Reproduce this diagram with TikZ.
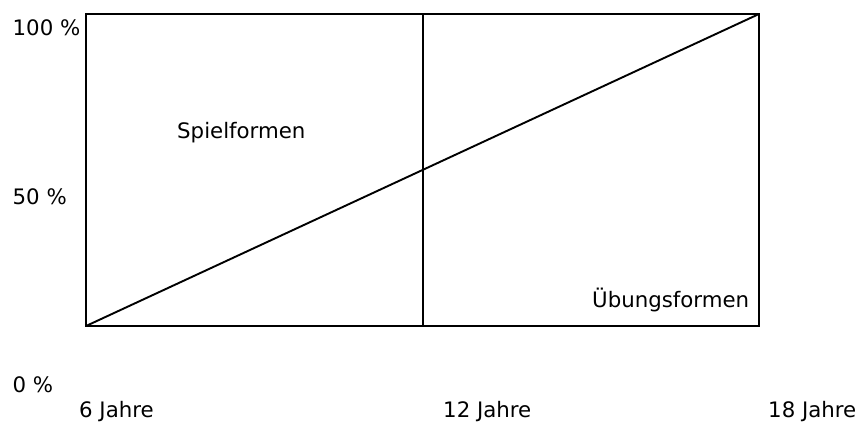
\documentclass[tikz,border=0pt]{standalone}
\usepackage{fontspec}
\setmainfont{DejaVu Sans}
\usetikzlibrary{positioning}

\begin{document}
\begin{tikzpicture}[x=1pt,y=-1pt,
  axislabel/.style={anchor=base west,inner sep=0pt,font=\fontsize{21.3}{25}\selectfont},
  arealabel/.style={anchor=base west,inner sep=0pt,font=\fontsize{21.3}{25}\selectfont},
  frameline/.style={line width=2.2pt},
  shareline/.style={line width=1.9pt}
]
\useasboundingbox (0,0) rectangle (860,421);
% frame of the chart
\coordinate (bl) at (86,326);
\coordinate (tr) at (759,14);
\coordinate (midb) at (423,326);
\coordinate (midt) at (423,14);
\draw[frameline] (bl) rectangle (tr);
\draw[frameline] (midb) -- (midt);
\draw[shareline] (bl) -- (tr);

% percentages
\node[axislabel] (p100) at (12.5,35) {100 \%};
\node[axislabel] (p50) at (12.5,204) {50 \%};
\node[axislabel] (p0) at (12.5,392) {0 \%};

% ages
\node[axislabel] (a6) at (79,417) {6 Jahre};
\node[axislabel] (a12) at (443,417) {12 Jahre};
\node[axislabel] (a18) at (768,417) {18 Jahre};

% areas
\node[arealabel] (spiel) at (177,138) {Spielformen};
\node[arealabel] (uebung) at (592,307) {Übungsformen};
\end{tikzpicture}
\end{document}
